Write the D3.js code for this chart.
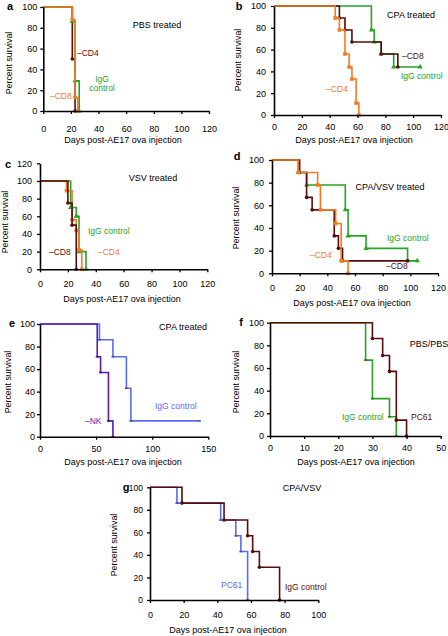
<!DOCTYPE html>
<html><head><meta charset="utf-8">
<script src="https://cdn.jsdelivr.net/npm/d3@7/dist/d3.min.js"></script>
<style>body{margin:0;background:#fff}svg{display:block;font-family:"Liberation Sans",Arial,sans-serif}</style>
</head><body><svg id="c" width="448" height="636"></svg>
<script>
// ---- data ----
const xTicksA = [0,20,40,60,80,100,120];
const yTicks100 = [0,20,40,60,80,100];
const yTicks120 = [0,20,40,60,80,100,120];
const xTicksE = [0,50,100,150];
const xTicksF = [0,10,20,30,40,50];
const xTicksG = [0,20,40,60,80,100];

const aIgG_t=[21,23,26], aIgG_s=[86,29,0];
const aCD4_t=[21,23], aCD4_s=[50,0];
const aCD8_t=[21,23,25], aCD8_s=[88,13,0];

const bIgG_t=[70,72,77,86], bIgG_s=[78,67,56,44];
const bCD8_t=[47,51,56,77,89], bCD8_s=[89,78,67,56,44];
const bCD4_t=[44,47,51,54,56,59,61], bCD4_s=[89,78,56,44,33,11,0];

const cIgG_t=[22,26,28,33], cIgG_s=[70,60,20,0];
const cCD8_t=[20,23,26], cCD8_s=[75,50,0];
const cCD4_t=[19,23,26,28,30], cCD4_s=[89,56,44,22,0];

const dIgG_t=[19,25,53,55,68,98], dIgG_s=[89,78,56,33,22,11];
const dCD8_t=[20,25,29,45,48,51], dCD8_s=[89,67,56,33,22,11];
const dCD4_t=[19,33,35,46,50,55], dCD4_s=[89,78,56,44,11,0];

const eIgG_t=[53,65,77,81], eIgG_s=[86,71,43,14];
const eNK_t=[51,54,61,65], eNK_s=[71,57,14,0];

const fIgG_t=[28,30,35,37], fIgG_s=[67,33,17,0];
const fPC61_t=[30,33,35,37,40], fPC61_s=[86,71,57,14,0];

const gPC61_t=[16,42,51,54,58], gPC61_s=[86,71,57,43,0];
const gIgG_t=[19,44,58,61,65,77], gIgG_s=[86,71,57,43,29,0];

// ---- styles ----
const GREEN="#27a327", MAROON="#5a0b0b", ORANGE="#f47a22", BLUE="#5a6cf0", PURPLE="#5a1cb0";

const panels = [
 {L:"a", box:[43.3,209,111,7], xd:[0,120], yd:[0,100], xt:xTicksA, yt:yTicks100, xpad:12, ypad:3, yfs:9,
  lp:[10,7], yl:[10,63], xl:[123,141],
  series:[{t:aCD4_t,s:aCD4_s,c:MAROON,m:"circle"},{t:aIgG_t,s:aIgG_s,c:GREEN,m:"triangle"},{t:aCD8_t,s:aCD8_s,c:ORANGE,m:"square"}],
  texts:[["PBS treated",157,26,"middle","#000"],["–CD4",77,54,"start",MAROON],["IgG",102,80,"middle",GREEN],["control",102,89,"middle",GREEN],["–CD8",50,97,"start",ORANGE]]},
 {L:"b", box:[274,441,115,6], xd:[0,120], yd:[0,100], xt:xTicksA, yt:yTicks100, xpad:6, ypad:5, yfs:9,
  lp:[239,7], yl:[239,60], xl:[354,141],
  series:[{t:bIgG_t,s:bIgG_s,c:GREEN,m:"triangle",end:105},{t:bCD8_t,s:bCD8_s,c:MAROON,m:"circle"},{t:bCD4_t,s:bCD4_s,c:ORANGE,m:"square"}],
  texts:[["CPA treated",411,16,"middle","#000"],["–CD8",402,57,"start",MAROON],["IgG control",401,77,"start",GREEN],["–CD4",326,90,"start",ORANGE]]},
 {L:"c", box:[40,207.3,269.3,163.3], xd:[0,120], yd:[0,120], xt:xTicksA, yt:yTicks120, xpad:8, ypad:5, yfs:9,
  lp:[8,165], yl:[6,222], xl:[122,300],
  series:[{t:cIgG_t,s:cIgG_s,c:GREEN,m:"triangle"},{t:cCD4_t,s:cCD4_s,c:ORANGE,m:"square"},{t:cCD8_t,s:cCD8_s,c:MAROON,m:"circle"}],
  texts:[["VSV treated",153,179,"middle","#000"],["IgG control",88,232,"start",GREEN],["–CD8",49,253,"start",MAROON],["–CD4",98,253,"start",ORANGE]]},
 {L:"d", box:[272,438,273.3,160], xd:[0,120], yd:[0,100], xt:xTicksA, yt:yTicks100, xpad:8, ypad:5, yfs:9,
  lp:[237,157], yl:[237,218], xl:[352,304],
  series:[{t:dIgG_t,s:dIgG_s,c:GREEN,m:"triangle",end:105},{t:dCD8_t,s:dCD8_s,c:MAROON,m:"circle",end:98},{t:dCD4_t,s:dCD4_s,c:ORANGE,m:"square"}],
  texts:[["CPA/VSV treated",390,188,"middle","#000"],["IgG control",387,239,"start",GREEN],["–CD4",310,256,"start",ORANGE],["–CD8",386,267,"start",MAROON]]},
 {L:"e", box:[40,208.3,436.7,324], xd:[0,150], yd:[0,100], xt:xTicksE, yt:yTicks100, xpad:6, ypad:2, yfs:9,
  lp:[12,324], yl:[9,382], xl:[123,463],
  series:[{t:eIgG_t,s:eIgG_s,c:BLUE,m:"tick",end:142},{t:eNK_t,s:eNK_s,c:PURPLE,m:"tick"}],
  texts:[["CPA treated",183,328,"middle","#000"],["IgG control",155,407,"start",BLUE],["–NK",85,422,"start",PURPLE]]},
 {L:"f", box:[270,440.7,436,322.7], xd:[0,50], yd:[0,100], xt:xTicksF, yt:yTicks100, xpad:6, ypad:3, yfs:9,
  lp:[241,323], yl:[237,382], xl:[356,463],
  series:[{t:fIgG_t,s:fIgG_s,c:GREEN,m:"tick"},{t:fPC61_t,s:fPC61_s,c:MAROON,m:"circle"}],
  texts:[["PBS/PBS",429,345,"middle","#000"],["IgG control",342,418,"start",GREEN],["PC61",411,418,"start",MAROON]]},
 {L:"g", box:[150,318.3,600,487.3], xd:[0,100], yd:[0,100], xt:xTicksG, yt:yTicks100, xpad:9, ypad:4, yfs:8.5,
  lp:[126,488], yl:[115,545], xl:[228,631],
  series:[{t:gPC61_t,s:gPC61_s,c:BLUE,m:"tick"},{t:gIgG_t,s:gIgG_s,c:MAROON,m:"circle"}],
  texts:[["CPA/VSV",302,489,"middle","#000"],["PC61",221,586,"start",BLUE],["IgG control",285,588,"start",MAROON]]}
];

const svg = d3.select("#c");
panels.forEach(p=>{
  const [x0,x1,yb,yt] = p.box;
  const x = d3.scaleLinear().domain(p.xd).range([x0,x1]);
  const y = d3.scaleLinear().domain(p.yd).range([yb,yt]);
  const g = svg.append("g");
  const line = d3.line().x(d=>x(d[0])).y(d=>y(d[1])).curve(d3.curveStepAfter);
  p.series.forEach(se=>{
    const pts=[[0,100]];
    se.t.forEach((t,i)=>pts.push([t,se.s[i]]));
    if(se.end!==undefined) pts.push([se.end, se.s[se.s.length-1]]);
    g.append("path").attr("d",line(pts)).attr("fill","none").attr("stroke",se.c).attr("stroke-width",1.6);
    const mk = se.t.map((t,i)=>[t,se.s[i]]);
    if(se.end!==undefined) mk.push([se.end, se.s[se.s.length-1]]);
    mk.forEach(d=>{
      const cx=x(d[0]), cy=y(d[1]);
      if(se.m==="circle") g.append("circle").attr("cx",cx).attr("cy",cy).attr("r",1.8).attr("fill",se.c);
      else if(se.m==="square") g.append("rect").attr("x",cx-1.8).attr("y",cy-1.8).attr("width",3.6).attr("height",3.6).attr("fill",se.c);
      else if(se.m==="triangle") g.append("path").attr("d",d3.symbol(d3.symbolTriangle,12)()).attr("transform",`translate(${cx},${cy})`).attr("fill",se.c);
      else g.append("path").attr("d",`M${cx-1.5},${cy}H${cx+1.5}`).attr("stroke",d3.color(se.c).darker(0.8)).attr("stroke-width",1.6);
    });
  });
  const ax = g.append("g").attr("transform",`translate(0,${yb})`)
    .call(d3.axisBottom(x).tickValues(p.xt).tickSize(3).tickSizeOuter(0).tickPadding(p.xpad));
  const ay = g.append("g").attr("transform",`translate(${x0},0)`)
    .call(d3.axisLeft(y).tickValues(p.yt).tickSize(3).tickSizeOuter(0).tickPadding(p.ypad));
  [ax,ay].forEach(a=>{
    a.select(".domain").attr("stroke","#000").attr("stroke-width",1.6);
    a.selectAll(".tick line").attr("stroke","#000").attr("stroke-width",1.3);
    a.selectAll("text").attr("font-size",9).attr("fill","#000").attr("font-family",'"Liberation Sans",Arial,sans-serif');
  });
  ay.selectAll("text").attr("font-size",p.yfs);
  g.append("text").attr("x",p.xl[0]).attr("y",p.xl[1]).attr("text-anchor","middle").attr("dominant-baseline","middle")
    .attr("font-size",9).text("Days post-AE17 ova injection");
  g.append("text").attr("transform",`translate(${p.yl[0]},${p.yl[1]}) rotate(-90)`).attr("text-anchor","middle").attr("dominant-baseline","middle")
    .attr("font-size",8.8).text("Percent survival");
  g.append("text").attr("x",p.lp[0]).attr("y",p.lp[1]).attr("text-anchor","middle").attr("dominant-baseline","middle")
    .attr("font-size",11).attr("font-weight","bold").text(p.L);
  p.texts.forEach(tx=>{
    g.append("text").attr("x",tx[1]).attr("y",tx[2]).attr("text-anchor",tx[3]).attr("dominant-baseline","middle")
      .attr("font-size",tx[4]==="#000"?9:8.5).attr("fill",tx[4]).text(tx[0]);
  });
});
</script></body></html>
